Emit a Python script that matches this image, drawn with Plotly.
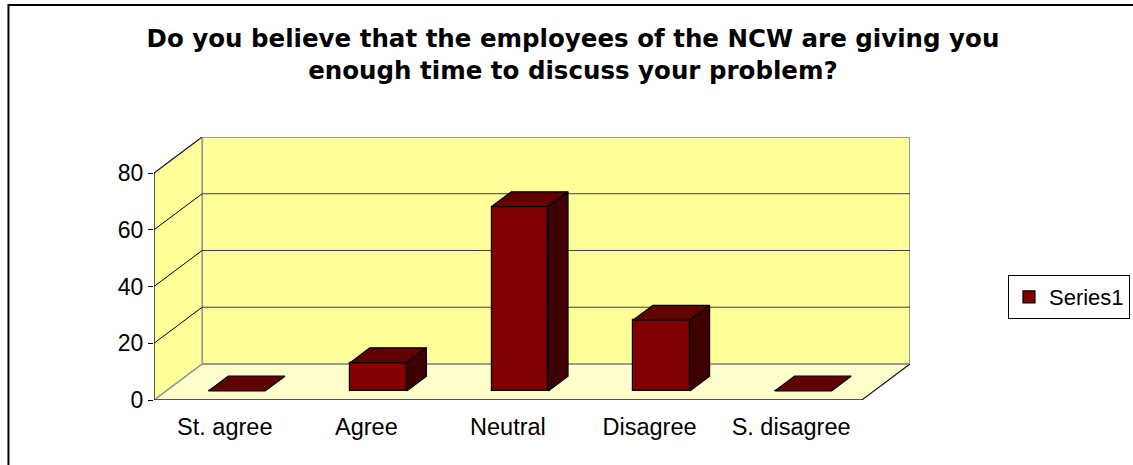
import plotly.graph_objects as go

# ---- data ----
categories = ["St. agree", "Agree", "Neutral", "Disagree", "S. disagree"]
values = [0, 10, 65, 25, 0]
y_ticks = [0, 20, 40, 60, 80]
series_name = "Series1"
title_text = ("Do you believe that the employees of the NCW are giving you<br>"
              "enough time to discuss your problem?")

# ---- style / geometry ----
DX = 0.34      # depth in category units
DY = 12.7      # depth in value units
YMAX = 80
D0, D1 = 0.25, 0.66   # bar front/back depth fraction
BW = 0.40             # bar width (category units)
FRONT, TOP, SIDE = "#800000", "#600000", "#3f0000"
WALL, FLOOR, EDGE = "#FFFF99", "#FFFFCC", "#999999"
GRID = "#404040"
FONT = "Arial, Liberation Sans, sans-serif"

n = len(categories)
xl, xr = -0.5, n - 0.5


def path(pts):
    return "M " + " L ".join(f"{x},{y}" for x, y in pts) + " Z"


shapes = []
# floor
shapes.append(dict(type="path", xref="x", yref="y", layer="below",
                   path=path([(xl, 0), (xr, 0), (xr + DX, DY), (xl + DX, DY)]),
                   fillcolor=FLOOR, line=dict(color=EDGE, width=1.5)))
# back wall
shapes.append(dict(type="path", xref="x", yref="y", layer="below",
                   path=path([(xl + DX, DY), (xr + DX, DY), (xr + DX, YMAX + DY), (xl + DX, YMAX + DY)]),
                   fillcolor=WALL, line=dict(color=EDGE, width=2)))
# left wall
shapes.append(dict(type="path", xref="x", yref="y", layer="below",
                   path=path([(xl, 0), (xl + DX, DY), (xl + DX, YMAX + DY), (xl, YMAX)]),
                   fillcolor=WALL, line=dict(color=EDGE, width=1.5)))
# gridlines
for g in y_ticks[1:-1]:
    shapes.append(dict(type="line", xref="x", yref="y", layer="below",
                       x0=xl + DX, x1=xr + DX, y0=g + DY, y1=g + DY,
                       line=dict(color=GRID, width=1)))
for g in y_ticks[1:]:
    shapes.append(dict(type="line", xref="x", yref="y", layer="below",
                       x0=xl, x1=xl + DX, y0=g, y1=g + DY,
                       line=dict(color="#000000", width=1)))
# axis lines (front)
shapes.append(dict(type="line", xref="x", yref="y", x0=xl, x1=xr, y0=0, y1=0,
                   line=dict(color="black", width=1)))
shapes.append(dict(type="line", xref="x", yref="y", x0=xl, x1=xl, y0=0, y1=YMAX,
                   line=dict(color="black", width=1)))
shapes.append(dict(type="line", xref="x", yref="y", x0=xr, x1=xr + DX, y0=0, y1=DY,
                   line=dict(color="black", width=1)))
# x boundary ticks
for i in range(n + 1):
    xb = xl + i
    shapes.append(dict(type="line", xref="x", yref="y", ysizemode="pixel", yanchor=0,
                       x0=xb, x1=xb, y0=0, y1=-6, line=dict(color="black", width=1)))
# outer chart border
shapes.append(dict(type="rect", xref="paper", yref="paper",
                   x0=-0.1925, x1=1.32, y0=-0.30, y1=1.502,
                   line=dict(color="black", width=2), fillcolor="rgba(0,0,0,0)"))

fig = go.Figure()

# front faces
fig.add_trace(go.Bar(
    x=[i + D0 * DX for i in range(n)], y=values, base=[D0 * DY] * n,
    width=BW, name=series_name,
    marker=dict(color=FRONT, line=dict(color="black", width=1.2)),
    showlegend=True, hoverinfo="skip"))

# top faces
tx, ty = [], []
for i, v in enumerate(values):
    a = i - BW / 2
    b = i + BW / 2
    pts = [(a + D0 * DX, v + D0 * DY), (b + D0 * DX, v + D0 * DY),
           (b + D1 * DX, v + D1 * DY), (a + D1 * DX, v + D1 * DY), (a + D0 * DX, v + D0 * DY)]
    for x, y in pts:
        tx.append(x); ty.append(y)
    tx.append(None); ty.append(None)
fig.add_trace(go.Scatter(x=tx, y=ty, mode="lines", fill="toself", fillcolor=TOP,
                         line=dict(color="black", width=1.2), showlegend=False,
                         hoverinfo="skip"))

# side faces
sx, sy = [], []
for i, v in enumerate(values):
    if v <= 0:
        continue
    b = i + BW / 2
    pts = [(b + D0 * DX, D0 * DY), (b + D1 * DX, D1 * DY),
           (b + D1 * DX, v + D1 * DY), (b + D0 * DX, v + D0 * DY), (b + D0 * DX, D0 * DY)]
    for x, y in pts:
        sx.append(x); sy.append(y)
    sx.append(None); sy.append(None)
fig.add_trace(go.Scatter(x=sx, y=sy, mode="lines", fill="toself", fillcolor=SIDE,
                         line=dict(color="black", width=1.2), showlegend=False,
                         hoverinfo="skip"))

fig.update_layout(
    width=1133, height=465,
    margin=dict(l=154, r=223, t=137, b=65, autoexpand=False),
    paper_bgcolor="white", plot_bgcolor="rgba(0,0,0,0)",
    title=dict(text=title_text, x=0.5057, xref="container", xanchor="center",
               y=1 - 47 / 465, yref="container", yanchor="top",
               font=dict(family="DejaVu Sans", size=24.5, color="black", weight="bold")),
    xaxis=dict(range=[xl, xr + DX], tickvals=list(range(n)), ticktext=categories,
               ticks="", showgrid=False, zeroline=False, showline=False,
               ticklabelstandoff=10,
               tickfont=dict(family=FONT, size=23.5, color="black"), fixedrange=True),
    yaxis=dict(range=[0, YMAX + DY], tickvals=y_ticks, ticks="outside", ticklen=5,
               tickcolor="black", showgrid=False, zeroline=False, showline=False,
               tickfont=dict(family=FONT, size=23, color="black"), fixedrange=True),
    legend=dict(x=1.1296, y=0.475, xanchor="left", yanchor="top",
                bordercolor="black", borderwidth=1, bgcolor="white",
                font=dict(family=FONT, size=22, color="black")),
    shapes=shapes,
    bargap=0,
)

fig.write_html("out.html", config={"displayModeBar": False},
               post_script="document.body.style.margin='0px';")
